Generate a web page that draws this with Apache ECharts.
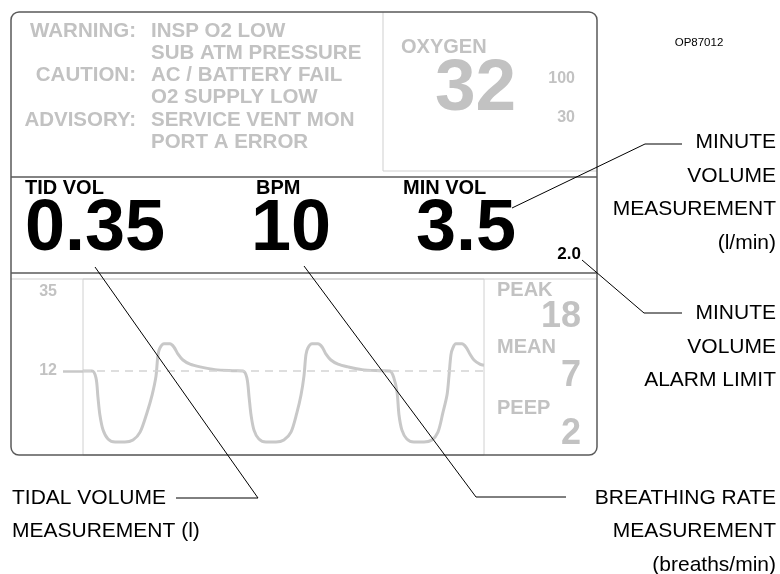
<!DOCTYPE html>
<html>
<head>
<meta charset="utf-8">
<script src="https://cdn.jsdelivr.net/npm/echarts@6.0.0/dist/echarts.min.js"></script>
<style>
  html, body { margin: 0; padding: 0; background: #fff; }
  #chart { width: 780px; height: 574px; }
</style>
</head>
<body>
<div id="chart"></div>
<script>
// airway pressure trace, time in s, pressure in cmH2O
const waveTime = [
  0, 0.37, 0.53, 0.61, 0.69, 0.82, 1.02, 1.31, 1.71, 2.04, 2.33, 2.61, 2.82, 2.98, 3.06, 3.14, 3.31, 3.55, 3.71, 3.88, 4.08, 4.37, 4.78, 5.39, 6.20,
  6.53, 6.69, 6.78, 6.86, 6.98, 7.18, 7.47, 7.88, 8.20, 8.49, 8.73, 8.90, 9.02, 9.10, 9.18, 9.35, 9.59, 9.76, 9.92, 10.12, 10.41, 10.82, 11.39, 12.12,
  12.53, 12.69, 12.82, 12.90, 13.02, 13.22, 13.51, 13.92, 14.24, 14.49, 14.69, 14.86, 14.94, 15.02, 15.10, 15.22, 15.47, 15.63, 15.80, 15.96, 16.20, 16.37
];
const wavePressure = [
  12, 12, 10.0, 4.4, -0.8, -5.2, -7.8, -8.7, -8.7, -8.1, -5.8, -0.2, 5.0, 10.5, 16.7, 18.7, 19.9, 19.9, 19.0, 16.9, 15.2, 14.0, 13.2, 12.4, 12.1,
  12, 10.0, 4.4, -0.8, -5.2, -7.8, -8.7, -8.7, -8.1, -5.8, -0.2, 5.0, 10.5, 16.7, 18.7, 19.9, 19.9, 19.0, 16.9, 15.2, 14.0, 13.2, 12.4, 12.1,
  12, 10.0, 5.9, -0.8, -5.2, -7.8, -8.7, -8.7, -8.1, -5.8, -0.2, 5.0, 10.5, 16.7, 18.7, 19.9, 19.9, 19.0, 16.9, 15.2, 14.0, 13.7
];
const pressureTicks = [12, 35];
const baselinePressure = 12;

const alarmLabels = ["WARNING:", "", "CAUTION:", "", "ADVISORY:", ""];
const alarmMessages = ["INSP O2 LOW", "SUB ATM PRESSURE", "AC / BATTERY FAIL", "O2 SUPPLY LOW", "SERVICE VENT MON", "PORT A ERROR"];
const oxygen = { label: "OXYGEN", value: "32", high: "100", low: "30" };
const readoutNames = ["TID VOL", "BPM", "MIN VOL"];
const readoutValues = ["0.35", "10", "3.5"];
const minVolAlarm = "2.0";
const pressureNames = ["PEAK", "MEAN", "PEEP"];
const pressureValues = ["18", "7", "2"];

const GRAY = "#c2c2c2";
const LINE = "#5a5a5a";
const FONT = '"Liberation Sans", Arial, sans-serif';

let g = [];
// y is the centre of the capital letters
function txt(x, y, text, size, opt) {
  opt = opt || {};
  g.push({
    type: "text", x: x, y: y + 0.048 * size, z: 50,
    style: {
      text: text,
      font: (opt.weight || "bold") + " " + size + "px " + FONT,
      fill: opt.color || GRAY,
      textAlign: opt.align || "left",
      textVerticalAlign: "middle"
    }
  });
}
function line(points, color, width, z) {
  g.push({
    type: "polyline", z: z || 60,
    shape: { points: points },
    style: { stroke: color, lineWidth: width, fill: null }
  });
}

// outer frame + section dividers
g.push({ type: "rect", z: 40, shape: { x: 11, y: 12, width: 586, height: 443, r: 8 }, style: { fill: null, stroke: LINE, lineWidth: 1.5 } });
line([[383, 12], [383, 171], [597, 171]], "#cfcfcf", 1, 39);
line([[11, 177], [597, 177]], LINE, 1.5, 41);
line([[11, 273], [597, 273]], LINE, 1.5, 41);
line([[11, 279], [597, 279]], "#cfcfcf", 1, 39);

// alarm text
const rowY = [30.5, 52, 74, 96.5, 119, 141.5];
alarmLabels.forEach((t, i) => { if (t) txt(136, rowY[i], t, 20.5, { align: "right" }); });
alarmMessages.forEach((t, i) => txt(151, rowY[i], t, 20.5));

// oxygen box
txt(401, 46.5, oxygen.label, 20);
txt(435, 86, oxygen.value, 73);
txt(575, 77.5, oxygen.high, 16, { align: "right" });
txt(575, 117, oxygen.low, 16, { align: "right" });

// main readouts
const readX = [25, 256, 403];
const valX = [25, 251, 416];
readoutNames.forEach((t, i) => txt(readX[i], 188, t, 20, { color: "#000" }));
readoutValues.forEach((t, i) => txt(valX[i], 226.5, t, 72, { color: "#000" }));
txt(581, 253, minVolAlarm, 17, { color: "#000", align: "right" });

// pressure readouts
const nameY = [290, 346.5, 408];
const valY = [315.5, 374.5, 432.5];
pressureNames.forEach((t, i) => txt(497, nameY[i], t, 20));
pressureValues.forEach((t, i) => txt(581, valY[i], t, 36, { align: "right" }));

// callouts
txt(699, 42, "OP87012", 11.5, { color: "#000", weight: "normal", align: "center" });
const rcol = { color: "#000", weight: "normal", align: "right" };
["MINUTE", "VOLUME", "MEASUREMENT", "(l/min)"].forEach((t, i) => txt(776, 141.5 + i * 33.5, t, 21, rcol));
["MINUTE", "VOLUME", "ALARM LIMIT"].forEach((t, i) => txt(776, 312.5 + i * 33.5, t, 21, rcol));
["BREATHING RATE", "MEASUREMENT", "(breaths/min)"].forEach((t, i) => txt(776, 497 + i * 33.5, t, 21, rcol));
txt(12, 497, "TIDAL VOLUME", 21, { color: "#000", weight: "normal" });
txt(12, 530.5, "MEASUREMENT (l)", 21, { color: "#000", weight: "normal" });

line([[512, 208], [645, 144], [682, 144]], "#000", 1);
line([[582, 260], [644, 313], [682, 313]], "#000", 1);
line([[95, 267], [258, 498], [176, 498]], "#000", 1);
line([[304, 266], [476, 497], [566, 497]], "#000", 1);

const chart = echarts.init(document.getElementById("chart"), null, { renderer: "canvas" });
chart.setOption({
  animation: false,
  backgroundColor: "#fff",
  grid: { left: 83, right: 296, top: 279, bottom: 119, show: true, borderColor: "#d0d0d0", borderWidth: 1 },
  xAxis: { type: "value", min: 0, max: 16.37, show: false },
  yAxis: {
    type: "value", min: -12.45, max: 38.78,
    axisLine: { show: false },
    splitLine: { show: false },
    axisTick: { show: true, customValues: [baselinePressure], length: 20, lineStyle: { color: "#c8c8c8", width: 2.5 } },
    axisLabel: { customValues: pressureTicks, margin: 26, color: GRAY, fontFamily: FONT, fontWeight: "bold", fontSize: 16 }
  },
  series: [{
    type: "line",
    data: waveTime.map((t, i) => [t, wavePressure[i]]),
    showSymbol: false,
    smooth: 0.3,
    lineStyle: { color: "#c8c8c8", width: 3 },
    markLine: {
      silent: true, symbol: ["none", "none"], label: { show: false },
      lineStyle: { color: "#d4d4d4", type: [8, 6], width: 1.5 },
      data: [{ yAxis: baselinePressure }]
    }
  }],
  graphic: g
});
</script>
</body>
</html>
